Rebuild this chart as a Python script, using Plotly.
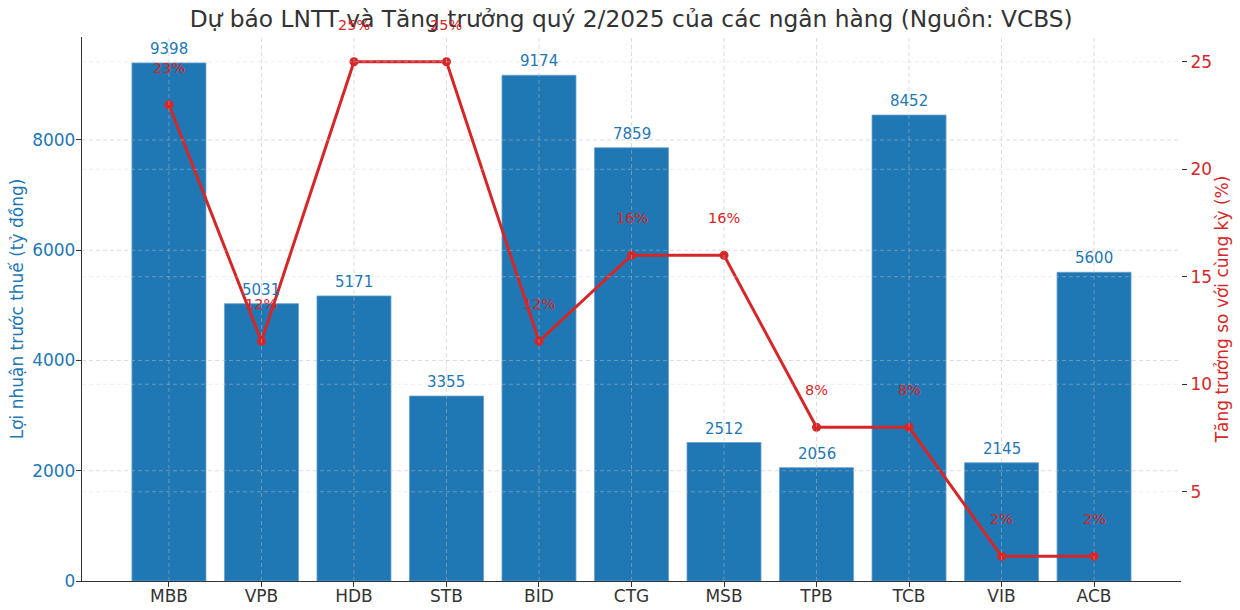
import plotly.graph_objects as go

banks = ["MBB", "VPB", "HDB", "STB", "BID", "CTG", "MSB", "TPB", "TCB", "VIB", "ACB"]
profit = [9398, 5031, 5171, 3355, 9174, 7859, 2512, 2056, 8452, 2145, 5600]
growth = [23, 12, 25, 25, 12, 16, 16, 8, 8, 2, 2]
left_ticks = [0, 2000, 4000, 6000, 8000]
right_ticks = [5, 10, 15, 20, 25]

BLUE = "#1f77b4"
RED = "#d62728"
FONT = "DejaVu Sans"

fig = go.Figure()
fig.add_trace(go.Bar(x=banks, y=profit, marker=dict(color=BLUE, line=dict(color="#6a9fcb", width=0.8)),
                     width=0.8, yaxis="y", showlegend=False, hoverinfo="skip"))
fig.add_trace(go.Scatter(x=banks, y=growth, mode="lines+markers", yaxis="y2",
                         line=dict(color=RED, width=3), marker=dict(color=RED, size=9),
                         showlegend=False))

ann = []
for b, v in zip(banks, profit):
    ann.append(dict(x=b, y=v, xref="x", yref="y", text=str(v), showarrow=False,
                    yanchor="middle", yshift=14, font=dict(color=BLUE, size=15, family=FONT)))
for b, g in zip(banks, growth):
    ann.append(dict(x=b, y=g, xref="x", yref="y2", text=f"{g}%", showarrow=False,
                    yanchor="middle", yshift=37, font=dict(color=RED, size=14.5, family=FONT)))

GRID_DASH = "4px,3px"
shapes = []
for b in banks:
    shapes.append(dict(type="line", xref="x", yref="paper", x0=b, x1=b, y0=0, y1=1, layer="above",
                       line=dict(color="rgba(185,185,185,0.5)", width=1, dash=GRID_DASH)))
for t in left_ticks[1:]:
    shapes.append(dict(type="line", xref="paper", yref="y", x0=0, x1=1, y0=t, y1=t, layer="above",
                       line=dict(color="rgba(185,185,185,0.5)", width=1, dash=GRID_DASH)))
for t in right_ticks:
    shapes.append(dict(type="line", xref="paper", yref="y2", x0=0, x1=1, y0=t, y1=t, layer="above",
                       line=dict(color="rgba(210,210,210,0.4)", width=1, dash=GRID_DASH)))

fig.update_layout(
    width=1240, height=610,
    margin=dict(l=82, r=59, t=37, b=29, autoexpand=False),
    plot_bgcolor="white", paper_bgcolor="white",
    font=dict(family=FONT),
    title=dict(text="Dự báo LNTT và Tăng trưởng quý 2/2025 của các ngân hàng (Nguồn: VCBS)",
               x=0.509, xanchor="center", y=0.969, yanchor="middle",
               font=dict(size=23.3, color="#333333", family=FONT)),
    xaxis=dict(range=[-0.94, 10.94], showgrid=False, showline=True, linecolor="#333333", linewidth=1.3,
               ticks="outside", ticklen=5, tickcolor="#333333", automargin=False,
               ticklabelstandoff=-6,
               tickfont=dict(size=17, color="#333333")),
    yaxis=dict(range=[0, 9868], tickvals=left_ticks, showgrid=False, zeroline=False,
               showline=True, linecolor="#333333", linewidth=1.3, automargin=True,
               ticks="outside", ticklen=5, tickcolor="#333333", ticklabelstandoff=-3,
               tickfont=dict(size=17, color=BLUE),
               title=dict(text="Lợi nhuận trước thuế (tỷ đồng)", font=dict(size=17, color=BLUE), standoff=4)),
    yaxis2=dict(range=[0.85, 26.15], tickvals=right_ticks, overlaying="y", side="right",
                showgrid=False, zeroline=False, showline=False, automargin=True,
                ticks="outside", ticklen=5, tickcolor="#333333",
                tickfont=dict(size=17, color=RED),
                title=dict(text="Tăng trưởng so với cùng kỳ (%)", font=dict(size=17, color=RED), standoff=5)),
    annotations=ann,
    shapes=shapes,
    bargap=0.2,
)

fig.write_html("out.html", config={"displayModeBar": False},
               post_script="document.body.style.margin='0';")
